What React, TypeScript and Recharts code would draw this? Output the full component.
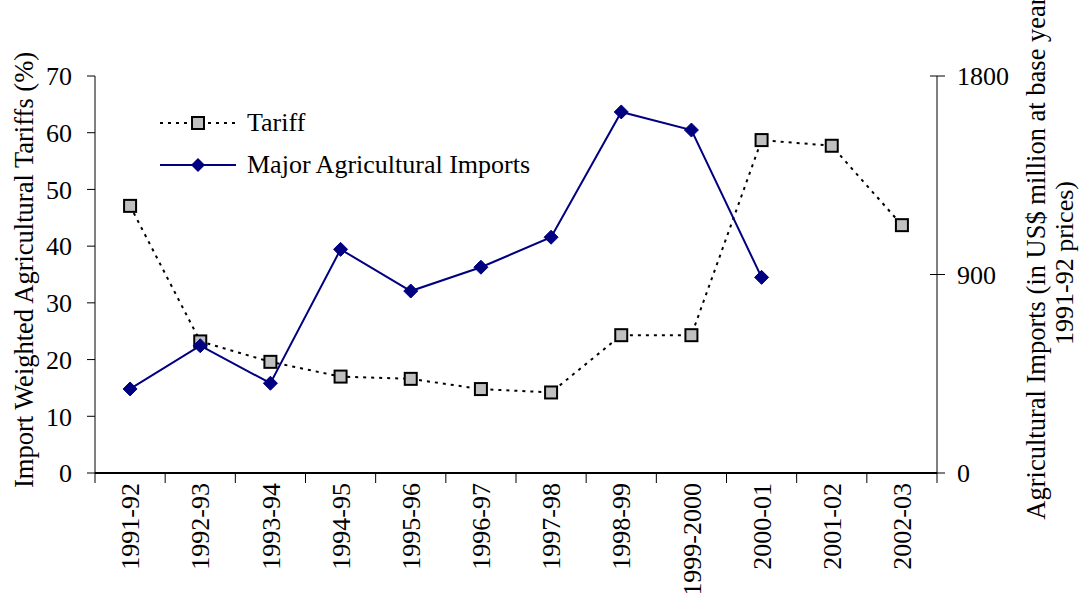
import React from "react";
import { LineChart, Line, XAxis, YAxis, Legend } from "recharts";

const years = ["1991-92", "1992-93", "1993-94", "1994-95", "1995-96", "1996-97", "1997-98", "1998-99", "1999-2000", "2000-01", "2001-02", "2002-03"];
const tariff = [47.1, 23.2, 19.6, 17.0, 16.6, 14.8, 14.2, 24.3, 24.3, 58.7, 57.7, 43.7];
const imports: (number | null)[] = [381, 577, 407, 1014, 825, 933, 1069, 1637, 1555, 887, null, null];
const leftTicks = [0, 10, 20, 30, 40, 50, 60, 70];
const rightTicks = [0, 900, 1800];
const seriesOrder = ["tariff", "imports"];

const data = years.map((year, i) => ({ year, tariff: tariff[i], imports: imports[i] }));

const FONT = "'Liberation Serif', 'Times New Roman', serif";
const W = 1081;
const H = 593;
const PLOT_LEFT = 95;
const PLOT_RIGHT = 937;
const PLOT_TOP = 76;
const PLOT_BOTTOM = 473;
const HALF = (PLOT_RIGHT - PLOT_LEFT) / years.length / 2;
const NAVY = "#000080";

const SquareDot = (p: any) => {
  if (p.cy == null) return <g key={`t-${p.index}`} />;
  return <rect key={`t-${p.index}`} x={p.cx - 6} y={p.cy - 6} width={12} height={12} fill="#c0c0c0" stroke="#000" strokeWidth={2} />;
};

const DiamondDot = (p: any) => {
  if (p.cy == null) return <g key={`d-${p.index}`} />;
  const { cx, cy } = p;
  return <path key={`d-${p.index}`} d={`M${cx},${cy - 7}L${cx + 7},${cy}L${cx},${cy + 7}L${cx - 7},${cy}Z`} fill={NAVY} stroke={NAVY} />;
};

const YearTick = (p: any) => {
  const { x, payload, index } = p;
  const last = index === years.length - 1;
  const ty = PLOT_BOTTOM + 10;
  return (
    <g>
      <line x1={x - HALF} x2={x - HALF} y1={PLOT_BOTTOM} y2={PLOT_BOTTOM + 10} stroke="#000" />
      {last && <line x1={x + HALF} x2={x + HALF} y1={PLOT_BOTTOM} y2={PLOT_BOTTOM + 10} stroke="#000" />}
      <text x={x} y={ty} transform={`rotate(-90, ${x}, ${ty})`} textAnchor="end" dy="0.35em" fontSize={26} fontFamily={FONT} fill="#000">
        {payload.value}
      </text>
    </g>
  );
};

const RightTick = (p: any) => {
  const { x, y, payload } = p;
  return (
    <g>
      <line x1={PLOT_RIGHT - 7} x2={PLOT_RIGHT + 8} y1={y} y2={y} stroke="#000" />
      <text x={x} y={y} dy="0.35em" textAnchor="start" fontSize={26} fontFamily={FONT} fill="#000">
        {payload.value}
      </text>
    </g>
  );
};

const LegendBox = (props: any) => {
  const items = [...(props.payload || [])].sort((a: any, b: any) => seriesOrder.indexOf(a.dataKey) - seriesOrder.indexOf(b.dataKey));
  return (
    <div style={{ fontFamily: FONT, fontSize: 26, color: "#000" }}>
      {items.map((it: any) => {
        const isTariff = it.dataKey === "tariff";
        return (
          <div key={it.value} style={{ display: "flex", alignItems: "center", height: 42 }}>
            <svg width={76} height={20} style={{ marginRight: 11 }}>
              <line x1={0} x2={76} y1={10} y2={10} stroke={isTariff ? "#000" : NAVY} strokeWidth={2} strokeDasharray={isTariff ? "3 5" : undefined} />
              {isTariff ? (
                <rect x={32} y={4} width={12} height={12} fill="#c0c0c0" stroke="#000" strokeWidth={2} />
              ) : (
                <path d="M38,3L45,10L38,17L31,10Z" fill={NAVY} />
              )}
            </svg>
            <span style={{ lineHeight: 1 }}>{it.value}</span>
          </div>
        );
      })}
    </div>
  );
};

export default function App() {
  return (
    <div style={{ position: "absolute", left: 0, top: 0, width: W, height: H, background: "#fff" }}>
      <LineChart width={W} height={H} data={data} margin={{ top: PLOT_TOP, right: 0, bottom: 0, left: 0 }} style={{ fontFamily: FONT }}>
        <XAxis
          dataKey="year"
          height={H - PLOT_BOTTOM}
          padding={{ left: HALF, right: HALF }}
          axisLine={{ stroke: "#000", strokeWidth: 2 }}
          tickLine={false}
          tick={YearTick}
          interval={0}
        />
        <YAxis
          yAxisId="left"
          width={PLOT_LEFT}
          domain={[0, 70]}
          ticks={leftTicks}
          interval={0}
          axisLine={{ stroke: "#000" }}
          tickLine={{ stroke: "#000" }}
          tickSize={8}
          tickMargin={15}
          tick={{ fontSize: 26, fill: "#000", fontFamily: FONT }}
          label={{
            content: () => (
              <text x={33} y={270} transform="rotate(-90, 33, 270)" textAnchor="middle" fontSize={26.5} fontFamily={FONT} fill="#000">
                Import Weighted Agricultural Tariffs (%)
              </text>
            ),
          }}
        />
        <YAxis
          yAxisId="right"
          orientation="right"
          width={W - PLOT_RIGHT}
          domain={[0, 1800]}
          ticks={rightTicks}
          interval={0}
          axisLine={{ stroke: "#000" }}
          tickLine={false}
          tickSize={0}
          tickMargin={20}
          tick={RightTick}
          label={{
            content: () => (
              <g>
                <text x={1045} y={258} transform="rotate(-90, 1045, 258)" textAnchor="middle" fontSize={26.5} fontFamily={FONT} fill="#000">
                  Agricultural Imports (in US$ million at base year
                </text>
                <text x={1073} y={263} transform="rotate(-90, 1073, 263)" textAnchor="middle" fontSize={26} fontFamily={FONT} fill="#000">
                  1991-92 prices)
                </text>
              </g>
            ),
          }}
        />
        <Legend
          layout="vertical"
          align="center"
          verticalAlign="middle"
          wrapperStyle={{ left: 160, top: 102, width: 420 }}
          content={LegendBox}
        />
        <Line
          yAxisId="left"
          dataKey="tariff"
          name="Tariff"
          stroke="#000"
          strokeWidth={2}
          strokeDasharray="3 5"
          dot={SquareDot}
          activeDot={false}
          isAnimationActive={false}
        />
        <Line
          yAxisId="right"
          dataKey="imports"
          name="Major Agricultural Imports"
          stroke={NAVY}
          strokeWidth={2}
          dot={DiamondDot}
          activeDot={false}
          connectNulls={false}
          isAnimationActive={false}
        />
      </LineChart>
    </div>
  );
}
